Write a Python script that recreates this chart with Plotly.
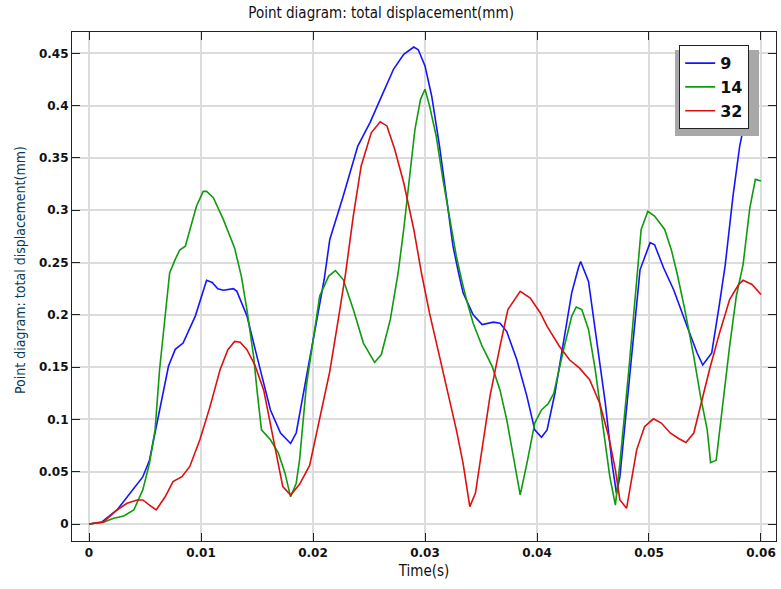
import plotly.graph_objects as go

# ---- data ----
t_9 = [0, 0.0011, 0.0025, 0.004, 0.0048, 0.0054, 0.0062, 0.0071, 0.0077, 0.0084, 0.0095, 0.0105, 0.011, 0.0115,
       0.012, 0.0129, 0.0132, 0.0141, 0.015, 0.0162, 0.0171, 0.018, 0.0185, 0.02, 0.021, 0.0215, 0.0227, 0.024,
       0.0251, 0.026, 0.0272, 0.0281, 0.029, 0.0294, 0.03, 0.0306, 0.0313, 0.0319, 0.0325, 0.033, 0.0334, 0.0343,
       0.0351, 0.0361, 0.0367, 0.0373, 0.0382, 0.0391, 0.0398, 0.0404, 0.0409, 0.0416, 0.0423, 0.0431, 0.0437,
       0.0439, 0.0446, 0.0453, 0.0461, 0.0467, 0.0471, 0.0474, 0.0483, 0.0492, 0.0501, 0.0505, 0.0513, 0.0522,
       0.0534, 0.0543, 0.0548, 0.0556, 0.0563, 0.0568, 0.0575, 0.0581, 0.0584, 0.0589, 0.0594]
v_9 = [0, 0.0016, 0.0134, 0.034, 0.045, 0.061, 0.103, 0.151, 0.167, 0.173, 0.199, 0.233, 0.231, 0.225,
       0.2235, 0.225, 0.2225, 0.199, 0.16, 0.109, 0.087, 0.077, 0.087, 0.173, 0.234, 0.272, 0.3135, 0.3614,
       0.384, 0.406, 0.435, 0.449, 0.456, 0.4534, 0.438, 0.409, 0.361, 0.3135, 0.2656, 0.24, 0.221, 0.2,
       0.1906, 0.193, 0.192, 0.184, 0.157, 0.122, 0.09, 0.083, 0.09, 0.125, 0.17, 0.221, 0.245,
       0.251, 0.232, 0.179, 0.1155, 0.058, 0.029, 0.045, 0.1475, 0.243, 0.269, 0.267, 0.245, 0.224,
       0.189, 0.1635, 0.152, 0.1635, 0.211, 0.247, 0.3135, 0.3614, 0.377, 0.41, 0.435]

t_14 = [0, 0.0013, 0.0022, 0.0031, 0.004, 0.0048, 0.0054, 0.0059, 0.0063, 0.0068, 0.0072, 0.0077, 0.0081,
        0.0086, 0.009, 0.0096, 0.0102, 0.0105, 0.0111, 0.012, 0.013, 0.0136, 0.0141, 0.0147, 0.015, 0.0154,
        0.0162, 0.0169, 0.0175, 0.018, 0.0185, 0.0188, 0.0194, 0.02, 0.0206, 0.0214, 0.022, 0.0227, 0.0236,
        0.0245, 0.0255, 0.0261, 0.0269, 0.0276, 0.0281, 0.0287, 0.0291, 0.0296, 0.03, 0.0304, 0.031, 0.0316,
        0.0322, 0.0328, 0.0333, 0.0337, 0.0343, 0.0351, 0.036, 0.0367, 0.0373, 0.0379, 0.0385, 0.0391, 0.0398,
        0.0404, 0.041, 0.0415, 0.0423, 0.0431, 0.0435, 0.044, 0.0446, 0.0452, 0.0459, 0.0465, 0.047, 0.0474,
        0.0482, 0.0489, 0.0493, 0.0499, 0.0505, 0.0514, 0.052, 0.0525, 0.0532, 0.054, 0.0546, 0.0552, 0.0555,
        0.056, 0.0566, 0.0572, 0.0578, 0.0584, 0.059, 0.0595, 0.06]
v_14 = [0, 0.0016, 0.0055, 0.0077, 0.0134, 0.0326, 0.058, 0.09, 0.1475, 0.202, 0.24, 0.253, 0.262,
        0.2656, 0.2816, 0.304, 0.318, 0.318, 0.312, 0.291, 0.264, 0.237, 0.205, 0.16, 0.128, 0.09,
        0.0805, 0.068, 0.0486, 0.026, 0.039, 0.061, 0.1315, 0.175, 0.218, 0.237, 0.2423, 0.2337, 0.205,
        0.173, 0.1545, 0.162, 0.1954, 0.24, 0.2816, 0.339, 0.377, 0.406, 0.4157, 0.4, 0.371, 0.3295,
        0.291, 0.256, 0.232, 0.2146, 0.192, 0.17, 0.1507, 0.128, 0.0996, 0.0645, 0.0278, 0.058, 0.0965,
        0.109, 0.115, 0.125, 0.1635, 0.1986, 0.2075, 0.205, 0.186, 0.1475, 0.09, 0.0453, 0.018, 0.058,
        0.1475, 0.236, 0.2816, 0.299, 0.2945, 0.2816, 0.262, 0.24, 0.205, 0.16, 0.122, 0.09, 0.0587,
        0.061, 0.1155, 0.17, 0.218, 0.248, 0.302, 0.3295, 0.328]

t_32 = [0, 0.0013, 0.0025, 0.0034, 0.0043, 0.0048, 0.0054, 0.006, 0.0068, 0.0075, 0.0083, 0.009, 0.0099,
        0.0108, 0.0117, 0.0124, 0.013, 0.0135, 0.0141, 0.0148, 0.0156, 0.0162, 0.0168, 0.0173, 0.018, 0.0188,
        0.0197, 0.0206, 0.0215, 0.0223, 0.0229, 0.0236, 0.0243, 0.0252, 0.026, 0.0266, 0.0273, 0.0281, 0.029,
        0.0297, 0.0304, 0.0313, 0.0321, 0.0328, 0.0334, 0.034, 0.0345, 0.0351, 0.0358, 0.0367, 0.0374, 0.0385,
        0.0394, 0.0403, 0.0409, 0.042, 0.0429, 0.0438, 0.0447, 0.0456, 0.0464, 0.047, 0.0474, 0.048, 0.0485,
        0.0489, 0.0496, 0.0504, 0.0511, 0.0519, 0.0526, 0.0533, 0.054, 0.0545, 0.0554, 0.0563, 0.0572, 0.058,
        0.0584, 0.0592, 0.06]
v_32 = [0, 0.002, 0.0134, 0.0198, 0.023, 0.023, 0.018, 0.0134, 0.026, 0.0405, 0.0453, 0.055, 0.0805,
        0.112, 0.1475, 0.1667, 0.1746, 0.1737, 0.1667, 0.1523, 0.128, 0.0965, 0.0645, 0.0357, 0.0278, 0.038,
        0.056, 0.101, 0.146, 0.1986, 0.239, 0.2945, 0.3423, 0.374, 0.3845, 0.3806, 0.358, 0.3263, 0.2816,
        0.239, 0.2018, 0.16, 0.122, 0.09, 0.058, 0.0166, 0.0294, 0.0709, 0.122, 0.17, 0.205, 0.2225,
        0.216, 0.2018, 0.189, 0.17, 0.157, 0.149, 0.138, 0.1155, 0.0837, 0.0517, 0.023, 0.015, 0.0453,
        0.0709, 0.093, 0.1006, 0.0965, 0.087, 0.082, 0.078, 0.087, 0.109, 0.1475, 0.1827, 0.2146, 0.229,
        0.233, 0.229, 0.2194]

series_names = ["9", "14", "32"]
x_ticks = [0, 0.01, 0.02, 0.03, 0.04, 0.05, 0.06]
x_tick_labels = ["0", "0.01", "0.02", "0.03", "0.04", "0.05", "0.06"]
y_ticks = [0, 0.05, 0.1, 0.15, 0.2, 0.25, 0.3, 0.35, 0.4, 0.45]
y_tick_labels = ["0", "0.05", "0.1", "0.15", "0.2", "0.25", "0.3", "0.35", "0.4", "0.45"]

title_text = "Point diagram: total displacement(mm)"
y_title = "Point diagram: total displacement(mm)"
x_title = "Time(s)"

colors = ["#1414ff", "#0f9a0f", "#dd1010"]

fig = go.Figure()
for name, tx, vy, c in zip(series_names, [t_9, t_14, t_32], [v_9, v_14, v_32], colors):
    fig.add_trace(go.Scatter(x=tx, y=vy, mode="lines", name=name,
                             line=dict(color=c, width=1.6)))

L, R, T, B = 72, 5, 32, 48
W, H = 781, 589
pw, ph = W - L - R, H - T - B

def px_to_paper(x, y):
    return (x - L) / pw, (H - B - y) / ph

# legend shadow
sx0, sy0 = px_to_paper(675, 136)
sx1, sy1 = px_to_paper(759, 50)
fig.add_shape(type="rect", xref="paper", yref="paper", x0=sx0, y0=sy0, x1=sx1, y1=sy1,
              fillcolor="#a8a8a8", line=dict(width=0), layer="above")

lx, ly = px_to_paper(679, 45)

title_font = "Liberation Sans Narrow, DejaVu Sans Condensed, Arial"

axis_common = dict(
    showline=True, linecolor="#222222", linewidth=1.2, mirror="ticks",
    ticks="inside", ticklen=8, tickcolor="#222222", tickwidth=1.2,
    showgrid=True, gridcolor="#dcdcdc", gridwidth=2,
    zeroline=False, automargin=False,
    tickfont=dict(family="DejaVu Sans", size=12, color="#111111", weight="bold"),
)

# y-axis title placed as a rotated text annotation
ytx, yty = px_to_paper(20, 270)
fig.add_annotation(text=y_title, xref="paper", yref="paper", x=ytx, y=yty,
                   textangle=-90, showarrow=False, xanchor="center", yanchor="middle",
                   font=dict(family=title_font, size=14, color="#0a3a50"))

fig.update_layout(
    width=W, height=H,
    margin=dict(l=L, r=R, t=T, b=B),
    paper_bgcolor="white", plot_bgcolor="white",
    title=dict(text=title_text, x=0.488, xanchor="center", y=0.978, yanchor="middle",
               font=dict(family=title_font, size=15, color="#111111")),
    xaxis=dict(range=[-0.001518, 0.06134], tickvals=x_ticks, ticktext=x_tick_labels,
               title=dict(text=x_title, standoff=6, font=dict(family=title_font, size=15, color="#111111")),
               **axis_common),
    yaxis=dict(range=[-0.01625, 0.4704], tickvals=y_ticks, ticktext=y_tick_labels,
               **axis_common),
    legend=dict(x=lx, y=ly, xanchor="left", yanchor="top",
                bgcolor="white", bordercolor="#222222", borderwidth=1.2,
                font=dict(family="DejaVu Sans", size=16, color="#111111", weight="bold"),
                itemwidth=30, tracegroupgap=0),
    showlegend=True,
)

fig.write_html("out.html", config={"displayModeBar": False},
               post_script="document.body.style.margin='0';document.body.style.padding='0';")
